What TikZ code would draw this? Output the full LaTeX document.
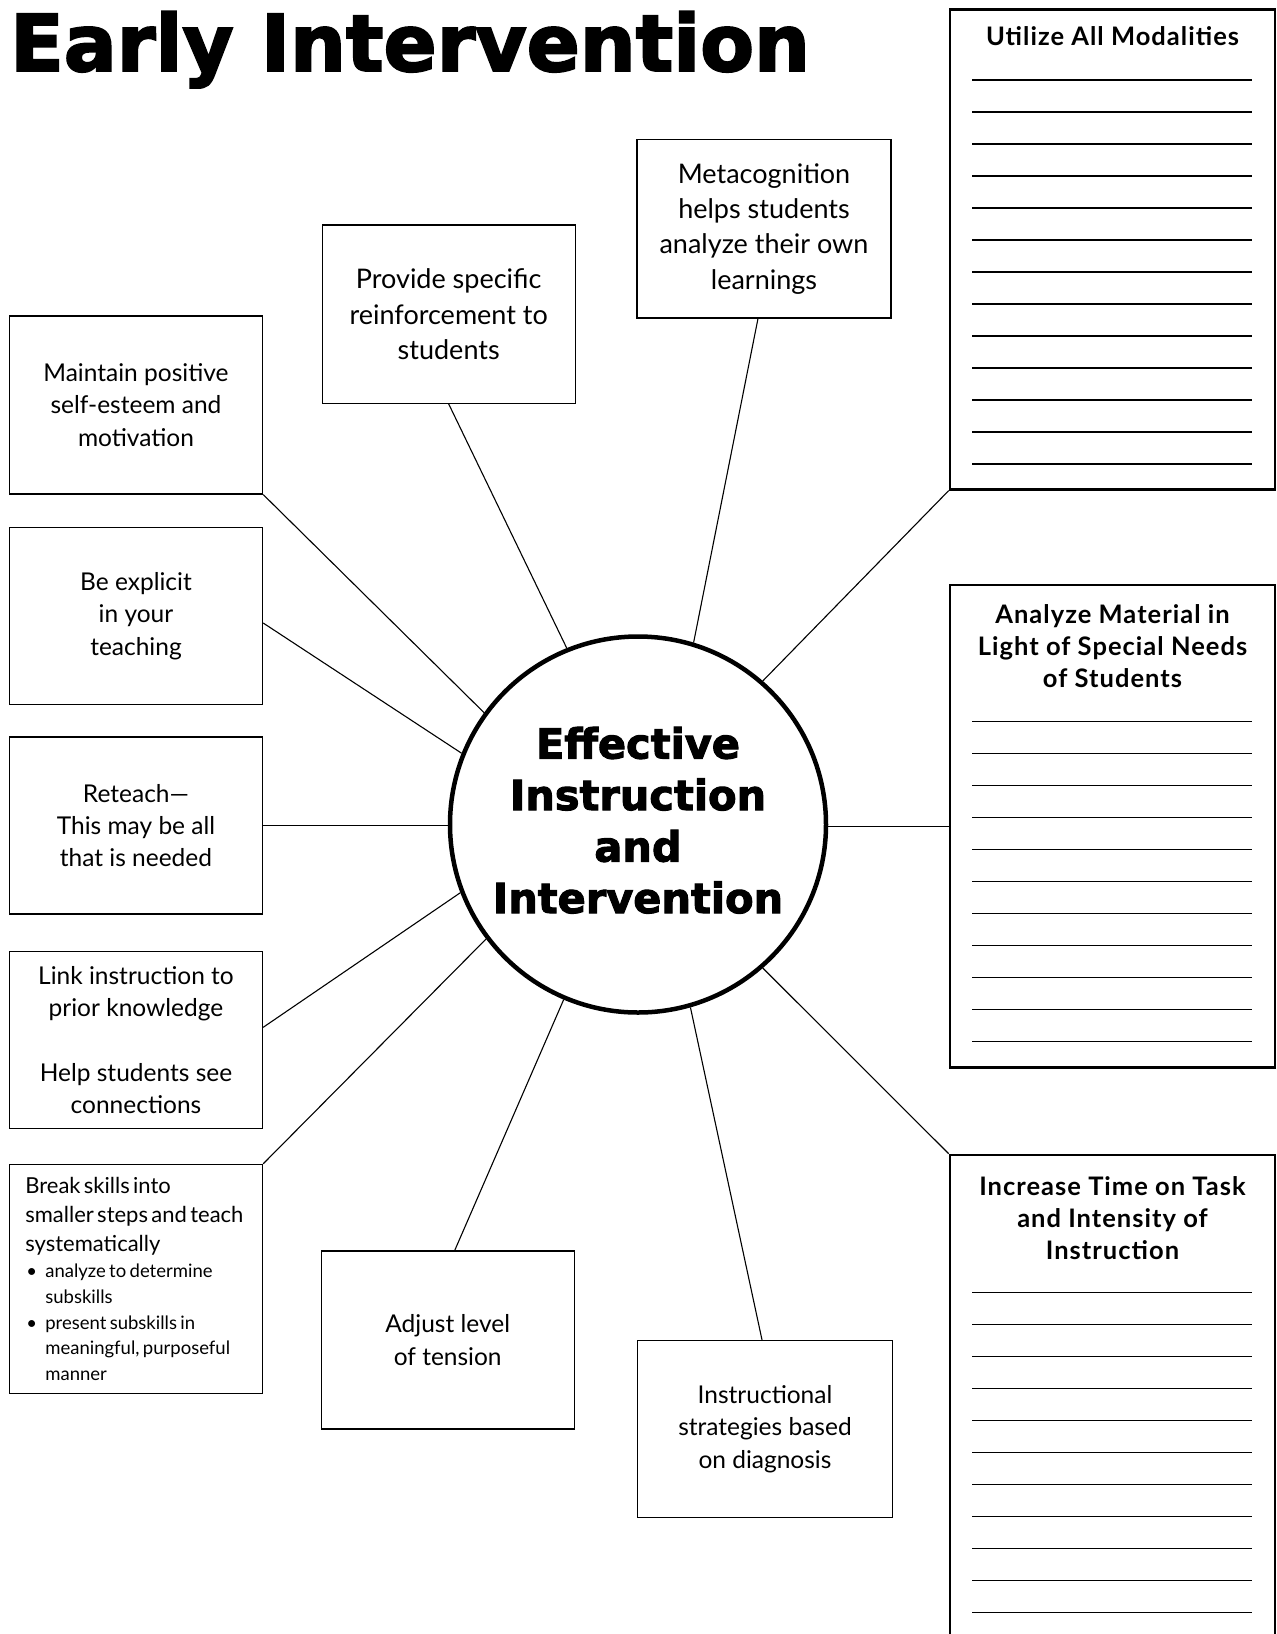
\documentclass[tikz,border=0pt]{standalone}
\usepackage{fontspec}
\setmainfont{Lato}
\newfontfamily\heavy{DejaVu Sans}[BoldFeatures={FakeBold=2.5}]
\begin{document}
\begin{tikzpicture}[x=1pt,y=-1pt,
  box/.style={draw, line width=1.1pt, minimum width=253.3pt, align=center, inner sep=4pt},
  sidebox/.style={draw, line width=2.6pt, minimum width=325pt},
  conn/.style={line width=1.1pt},
  rule/.style={line width=1.2pt},
  boxtext/.style={font=\fontsize{24.5}{32.3}\selectfont},
  toptext/.style={font=\fontsize{27}{35.3}\selectfont},
  sidetitle/.style={font=\bfseries\fontsize{25.5}{31.8}\selectfont\addfontfeatures{LetterSpace=4}, align=center, inner sep=0pt},
]
\clip (0,0) rectangle (1277,1634);
\fill[white] (0,0) rectangle (1277,1634);

\node[anchor=base west, inner sep=0pt, font=\heavy\bfseries\fontsize{78.5}{80}\selectfont] (title) at (10,71) {Early Intervention};

\node[circle, draw, line width=4.5pt, minimum size=376pt, inner sep=0pt, align=center, text depth=9pt,
  font=\heavy\bfseries\fontsize{41.5}{51.5}\selectfont] (c) at (638,824.5) {Effective\\Instruction\\and\\Intervention};

\node[box, minimum height=178pt, boxtext] (b1) at (136,405) {Maintain positive\\self-esteem and\\motivation};
\node[box, minimum height=177pt, boxtext] (b2) at (136,616) {Be explicit\\in your\\teaching};
\node[box, minimum height=177pt, boxtext] (b3) at (136,825.5) {Reteach—\\This may be all\\that is needed};
\node[box, minimum height=177pt, boxtext] (b4) at (136,1040.3) {Link instruction to\\prior knowledge\\[32.3pt]Help students see\\connections};
\node[box, minimum height=229.3pt, text width=225.3pt, align=left, inner xsep=14pt] (b5) at (136,1279) {\leftskip=2pt\relax\fontsize{22}{29.2}\selectfont Break skills into\\smaller steps and teach\\systematically\par
\fontsize{18.5}{25.8}\selectfont\makebox[20pt][l]{\hspace{1pt}\textbullet}analyze to determine\\\hspace*{20pt}subskills\\\makebox[20pt][l]{\hspace{1pt}\textbullet}present subskills in\\\hspace*{20pt}meaningful, purposeful\\\hspace*{20pt}manner\par};

\node[box, minimum height=178.4pt, toptext] (t1) at (448.7,314.2) {Provide specific\\reinforcement to\\students};
\node[box, minimum height=178.3pt, minimum width=254pt, toptext] (t2) at (764,228.8) {Metacognition\\helps students\\analyze their own\\learnings};

\node[box, minimum height=178pt, boxtext] (d1) at (447.7,1340) {Adjust level\\of tension};
\node[box, minimum height=177.3pt, minimum width=254.3pt, boxtext] (d2) at (765,1429) {Instructional\\strategies based\\on diagnosis};

\node[sidebox, minimum height=480pt] (r1) at (1112.5,249.3) {};
\node[sidebox, minimum height=482.3pt] (r2) at (1112.5,826.2) {};
\node[sidebox, minimum height=560pt] (r3) at (1112.5,1435) {};

\node[sidetitle, anchor=base] (r1t) at (1112.5,45) {Utilize All Modalities};
\node[sidetitle] (r2t) at (1112.5,646) {Analyze Material in\\Light of Special Needs\\of Students};
\node[sidetitle] (r3t) at (1112.5,1218) {Increase Time on Task\\and Intensity of\\Instruction};

\foreach \k in {0,...,12} \draw[rule] (972,{80+32*\k}) -- (1252,{80+32*\k});
\foreach \k in {0,...,10} \draw[rule] (972,{721.7+32*\k}) -- (1252,{721.7+32*\k});
\foreach \k in {0,...,11} \draw[rule] (972,{1292.7+32*\k}) -- (1252,{1292.7+32*\k});

\draw[conn] (b1.south east) -- (c.144.3);
\draw[conn] ([yshift=-7pt]b2.east) -- (c.158.7);
\draw[conn] (b3.east) -- (b3.east -| c.west);
\draw[conn] ([yshift=13pt]b4.east) -- (c.201);
\draw[conn] (b5.north east) -- (c.217.5);
\draw[conn] (t1.south) -- (c.112.7);
\draw[conn] ([xshift=-6pt]t2.south) -- (c.73.4);
\draw[conn] (r1.south west) -- (c.49.5);
\draw[conn] (r2.west) -- (r2.west -| c.east);
\draw[conn] (r3.north west) -- (c.-49.5);
\draw[conn] ([xshift=7pt]d1.north) -- (c.247.3);
\draw[conn] ([xshift=-3pt]d2.north) -- (c.286.6);
\end{tikzpicture}
\end{document}
